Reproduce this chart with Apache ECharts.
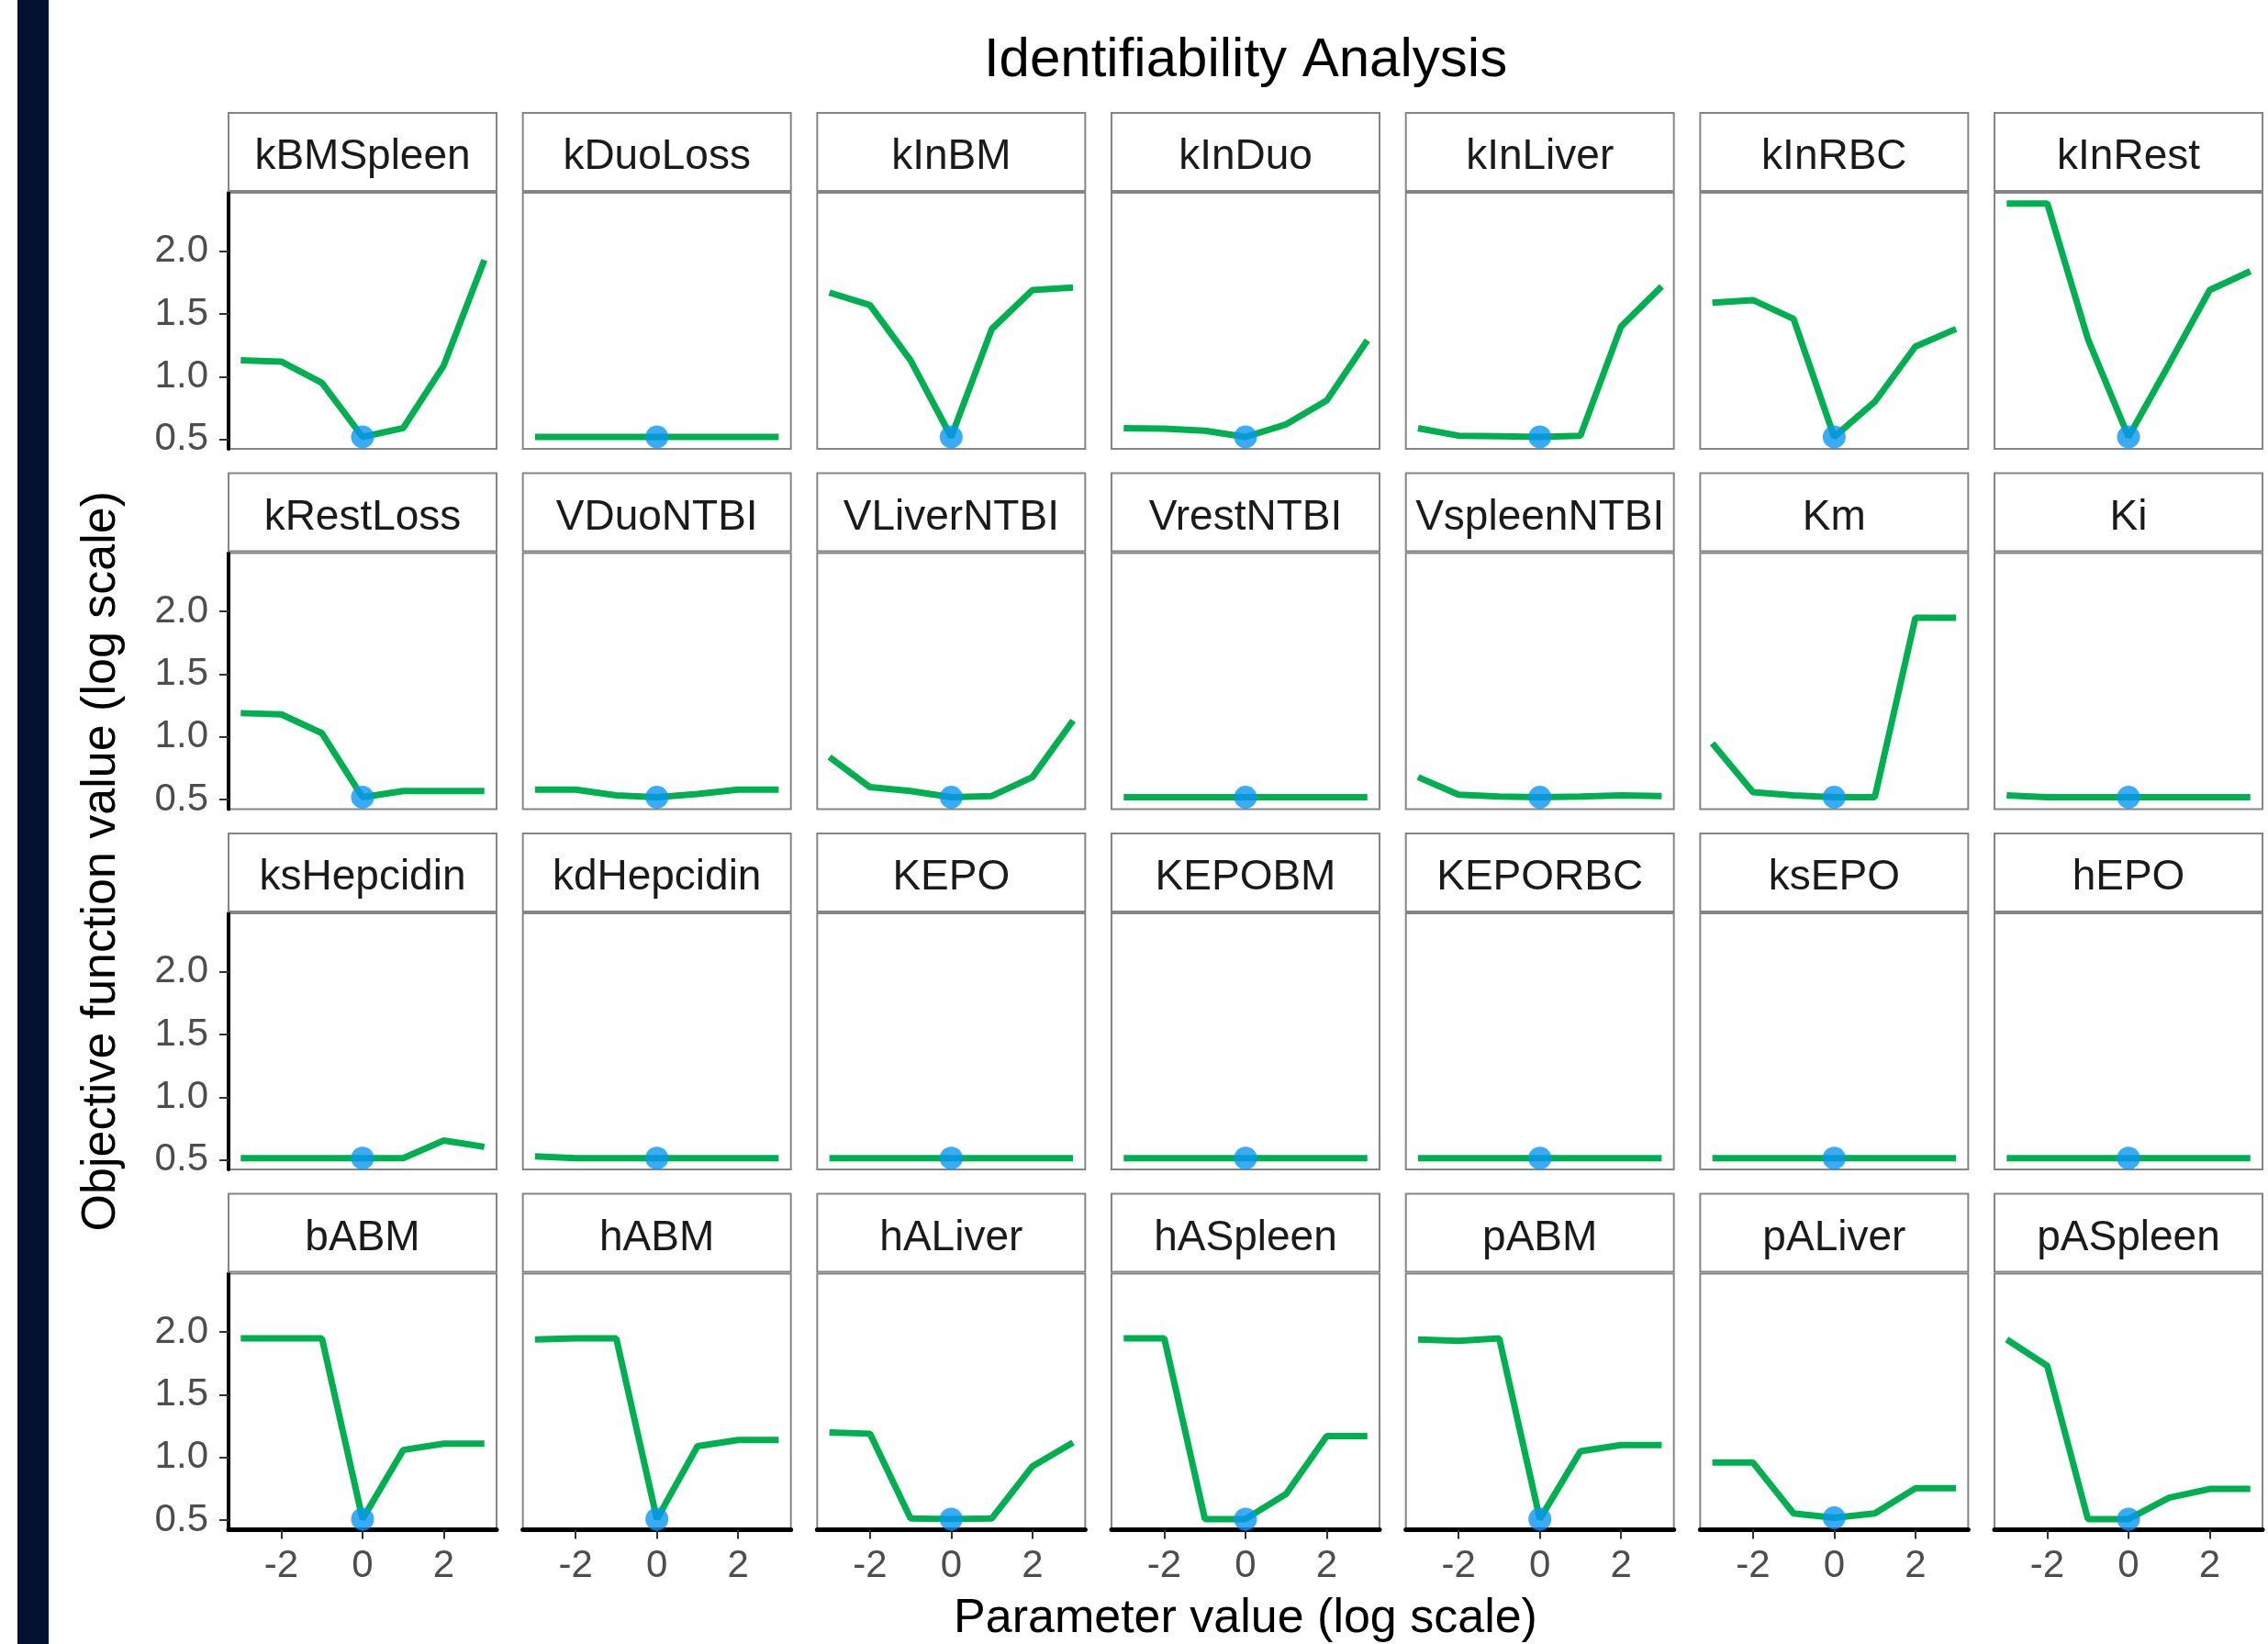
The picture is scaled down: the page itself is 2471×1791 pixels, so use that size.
<!DOCTYPE html>
<html>
<head>
<meta charset="utf-8">
<script src="https://cdn.jsdelivr.net/npm/echarts@6/dist/echarts.min.js"></script>
<style>
html,body{margin:0;padding:0;background:#ffffff;}
#chart{width:2471px;height:1791px;}
</style>
</head>
<body>
<div id="chart"></div>
<script>
// ---------- data ----------
const parameters = [
  'kBMSpleen','kDuoLoss','kInBM','kInDuo','kInLiver','kInRBC','kInRest',
  'kRestLoss','VDuoNTBI','VLiverNTBI','VrestNTBI','VspleenNTBI','Km','Ki',
  'ksHepcidin','kdHepcidin','KEPO','KEPOBM','KEPORBC','ksEPO','hEPO',
  'bABM','hABM','hALiver','hASpleen','pABM','pALiver','pASpleen'
];
const xValues = [-3, -2, -1, 0, 1, 2, 3];
const xTicks = [-2, 0, 2];
const yTicks = [0.5, 1.0, 1.5, 2.0];
const optimumX = 0;

const kBMSpleen   = [1.13, 1.12, 0.95, 0.52, 0.59, 1.09, 1.93];
const kDuoLoss    = [0.52, 0.52, 0.52, 0.52, 0.52, 0.52, 0.52];
const kInBM       = [1.67, 1.57, 1.13, 0.52, 1.38, 1.69, 1.71];
const kInDuo      = [0.59, 0.585, 0.57, 0.52, 0.62, 0.81, 1.29];
const kInLiver    = [0.59, 0.53, 0.525, 0.52, 0.53, 1.40, 1.72];
const kInRBC      = [1.59, 1.61, 1.46, 0.52, 0.80, 1.24, 1.38];
const kInRest     = [2.38, 2.38, 1.30, 0.52, 1.10, 1.69, 1.84];

const kRestLoss   = [1.19, 1.18, 1.03, 0.52, 0.57, 0.57, 0.57];
const VDuoNTBI    = [0.58, 0.58, 0.535, 0.52, 0.545, 0.58, 0.58];
const VLiverNTBI  = [0.84, 0.60, 0.57, 0.52, 0.53, 0.68, 1.13];
const VrestNTBI   = [0.52, 0.52, 0.52, 0.52, 0.52, 0.52, 0.52];
const VspleenNTBI = [0.68, 0.54, 0.525, 0.52, 0.525, 0.535, 0.53];
const Km          = [0.95, 0.56, 0.535, 0.52, 0.52, 1.95, 1.95];
const Ki          = [0.535, 0.52, 0.52, 0.52, 0.52, 0.52, 0.52];

const ksHepcidin  = [0.515, 0.515, 0.515, 0.515, 0.515, 0.655, 0.605];
const kdHepcidin  = [0.53, 0.515, 0.515, 0.515, 0.515, 0.515, 0.515];
const KEPO        = [0.515, 0.515, 0.515, 0.515, 0.515, 0.515, 0.515];
const KEPOBM      = [0.515, 0.515, 0.515, 0.515, 0.515, 0.515, 0.515];
const KEPORBC     = [0.515, 0.515, 0.515, 0.515, 0.515, 0.515, 0.515];
const ksEPO       = [0.515, 0.515, 0.515, 0.515, 0.515, 0.515, 0.515];
const hEPO        = [0.515, 0.515, 0.515, 0.515, 0.515, 0.515, 0.515];

const bABM        = [1.95, 1.95, 1.95, 0.51, 1.06, 1.11, 1.11];
const hABM        = [1.94, 1.95, 1.95, 0.51, 1.09, 1.14, 1.14];
const hALiver     = [1.20, 1.19, 0.515, 0.51, 0.515, 0.93, 1.12];
const hASpleen    = [1.95, 1.95, 0.51, 0.51, 0.71, 1.17, 1.17];
const pABM        = [1.94, 1.93, 1.95, 0.51, 1.05, 1.10, 1.10];
const pALiver     = [0.96, 0.96, 0.555, 0.52, 0.555, 0.755, 0.755];
const pASpleen    = [1.94, 1.73, 0.51, 0.51, 0.68, 0.75, 0.75];

const profiles = {
  kBMSpleen, kDuoLoss, kInBM, kInDuo, kInLiver, kInRBC, kInRest,
  kRestLoss, VDuoNTBI, VLiverNTBI, VrestNTBI, VspleenNTBI, Km, Ki,
  ksHepcidin, kdHepcidin, KEPO, KEPOBM, KEPORBC, ksEPO, hEPO,
  bABM, hABM, hALiver, hASpleen, pABM, pALiver, pASpleen
};

// ---------- layout ----------
const NCOL = 7, NROW = 4;
const layout = {
  left0: 249, colPitch: 320.67, w: 292,
  top0: 210, rowPitch: 392.5, h: 279, stripH: 87
};
const FONT = '"Liberation Sans", Arial, Helvetica, sans-serif';
const GREEN = '#00B050';
const BLUE = '#0896F5';
const BORDER = '#858585';

const grids = [], xAxes = [], yAxes = [], series = [], graphics = [];

graphics.push({
  type: 'rect', shape: { x: 19, y: 0, width: 34, height: 1791 },
  style: { fill: '#02112E' }, z: 0
});

parameters.forEach((name, k) => {
  const r = Math.floor(k / NCOL), c = k % NCOL;
  const left = layout.left0 + c * layout.colPitch;
  const top = layout.top0 + r * layout.rowPitch;
  const isBottom = r === NROW - 1, isLeft = c === 0;

  grids.push({
    left: left, top: top, width: layout.w, height: layout.h,
    show: true, borderColor: BORDER, borderWidth: 2, backgroundColor: '#fff',
    containLabel: false
  });

  xAxes.push({
    type: 'value', gridIndex: k, min: -3.3, max: 3.3,
    splitLine: { show: false },
    axisLine: { show: isBottom, onZero: false, lineStyle: { color: '#000', width: 5 } },
    axisTick: { show: isBottom, customValues: xTicks, length: 10, lineStyle: { color: '#333', width: 2 } },
    axisLabel: {
      show: isBottom, customValues: xTicks, margin: 19,
      fontSize: 42, fontFamily: FONT, color: '#4D4D4D',
      formatter: v => String(v)
    }
  });

  yAxes.push({
    type: 'value', gridIndex: k, min: 0.425, max: 2.465,
    splitLine: { show: false },
    axisLine: { show: isLeft, onZero: false, lineStyle: { color: '#000', width: 4 } },
    axisTick: { show: isLeft, customValues: yTicks, length: 10, lineStyle: { color: '#333', width: 2 } },
    axisLabel: {
      show: isLeft, customValues: yTicks, margin: 22,
      fontSize: 42, fontFamily: FONT, color: '#4D4D4D',
      formatter: v => v.toFixed(1)
    }
  });

  const vals = profiles[name];
  series.push({
    type: 'line', xAxisIndex: k, yAxisIndex: k,
    data: xValues.map((x, i) => [x, vals[i]]),
    symbol: 'none', lineStyle: { color: GREEN, width: 7 },
    z: 2, silent: true, animation: false
  });
  series.push({
    type: 'scatter', xAxisIndex: k, yAxisIndex: k,
    data: [[optimumX, vals[xValues.indexOf(optimumX)]]],
    symbol: 'circle', symbolSize: 25,
    itemStyle: { color: BLUE },
    z: 3, silent: true, animation: false
  });

  // facet strip
  graphics.push({
    type: 'rect',
    shape: { x: left, y: top - layout.stripH, width: layout.w, height: layout.stripH - 2 },
    style: { fill: '#fff', stroke: BORDER, lineWidth: 2 }, z: 1
  });
  graphics.push({
    type: 'text',
    x: left + layout.w / 2, y: top - layout.stripH / 2 + 5,
    style: {
      text: name, font: '46px ' + FONT, fill: '#1A1A1A',
      align: 'center', verticalAlign: 'middle'
    }, z: 2
  });
});

const panelsLeft = layout.left0;
const panelsRight = layout.left0 + (NCOL - 1) * layout.colPitch + layout.w;
const panelsTop = layout.top0;
const panelsBottom = layout.top0 + (NROW - 1) * layout.rowPitch + layout.h;
const centerX = (panelsLeft + panelsRight) / 2;
const centerY = (panelsTop + panelsBottom) / 2;

graphics.push({
  type: 'text', x: centerX, y: 66,
  style: { text: 'Identifiability Analysis', font: '60px ' + FONT, fill: '#000',
           align: 'center', verticalAlign: 'middle' }
});
graphics.push({
  type: 'text', x: centerX, y: 1764,
  style: { text: 'Parameter value (log scale)', font: '52px ' + FONT, fill: '#000',
           align: 'center', verticalAlign: 'middle' }
});
graphics.push({
  type: 'text', x: 111, y: centerY, rotation: Math.PI / 2,
  style: { text: 'Objective function value (log scale)', font: '52px ' + FONT, fill: '#000',
           align: 'center', verticalAlign: 'middle' }
});

const chart = echarts.init(document.getElementById('chart'), null, { renderer: 'canvas' });
chart.setOption({
  animation: false,
  backgroundColor: '#ffffff',
  grid: grids,
  xAxis: xAxes,
  yAxis: yAxes,
  series: series,
  graphic: graphics
});
</script>
</body>
</html>
